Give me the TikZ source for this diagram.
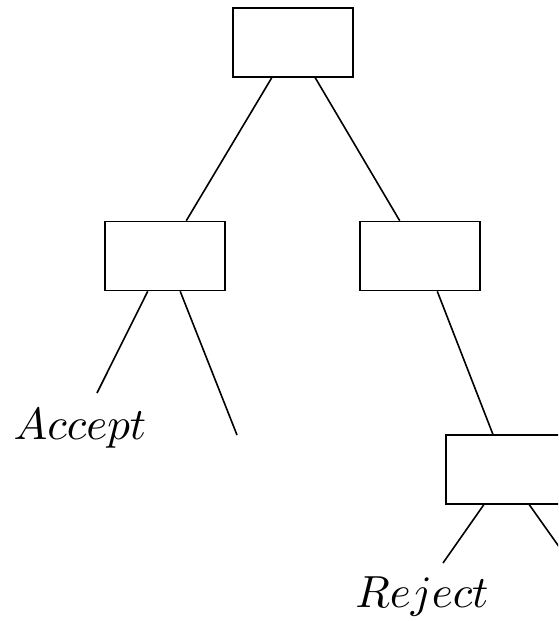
\documentclass[tikz,border=0pt]{standalone}
\usetikzlibrary{calc}
\begin{document}
\begin{tikzpicture}[x=1pt,y=-1pt,line width=1.6pt,
  box/.style={draw,rectangle,minimum width=120pt,minimum height=69pt,inner sep=0pt},
  lbl/.style={anchor=base,inner sep=0pt,scale=4.5}]
\useasboundingbox (0,0) rectangle (558,621);
\clip (0,0) rectangle (558,621);
\node[box] (top) at (293,42.5) {};
\node[box] (lm) at (165,256) {};
\node[box] (rm) at (420,256) {};
\node[box] (br) at (506,469.5) {};
\coordinate (lmend) at (237,435);
\coordinate (acc) at (97,393);
\coordinate (rej) at (443,563);
\coordinate (brend) at (572,565);
\node[lbl] (accept) at (80,439) {$Accept$};
\node[lbl] (reject) at (422,607) {$Reject$};
\draw ($(top.south west)!0.325!(top.south east)$) -- ($(lm.north west)!0.675!(lm.north east)$);
\draw ($(top.south west)!0.683!(top.south east)$) -- ($(rm.north west)!0.333!(rm.north east)$);
\draw ($(lm.south west)!0.358!(lm.south east)$) -- (acc);
\draw ($(lm.south west)!0.625!(lm.south east)$) -- (lmend);
\draw ($(rm.south west)!0.642!(rm.south east)$) -- ($(br.north west)!0.392!(br.north east)$);
\draw ($(br.south west)!0.317!(br.south east)$) -- (rej);
\draw ($(br.south west)!0.692!(br.south east)$) -- (brend);
\end{tikzpicture}
\end{document}
